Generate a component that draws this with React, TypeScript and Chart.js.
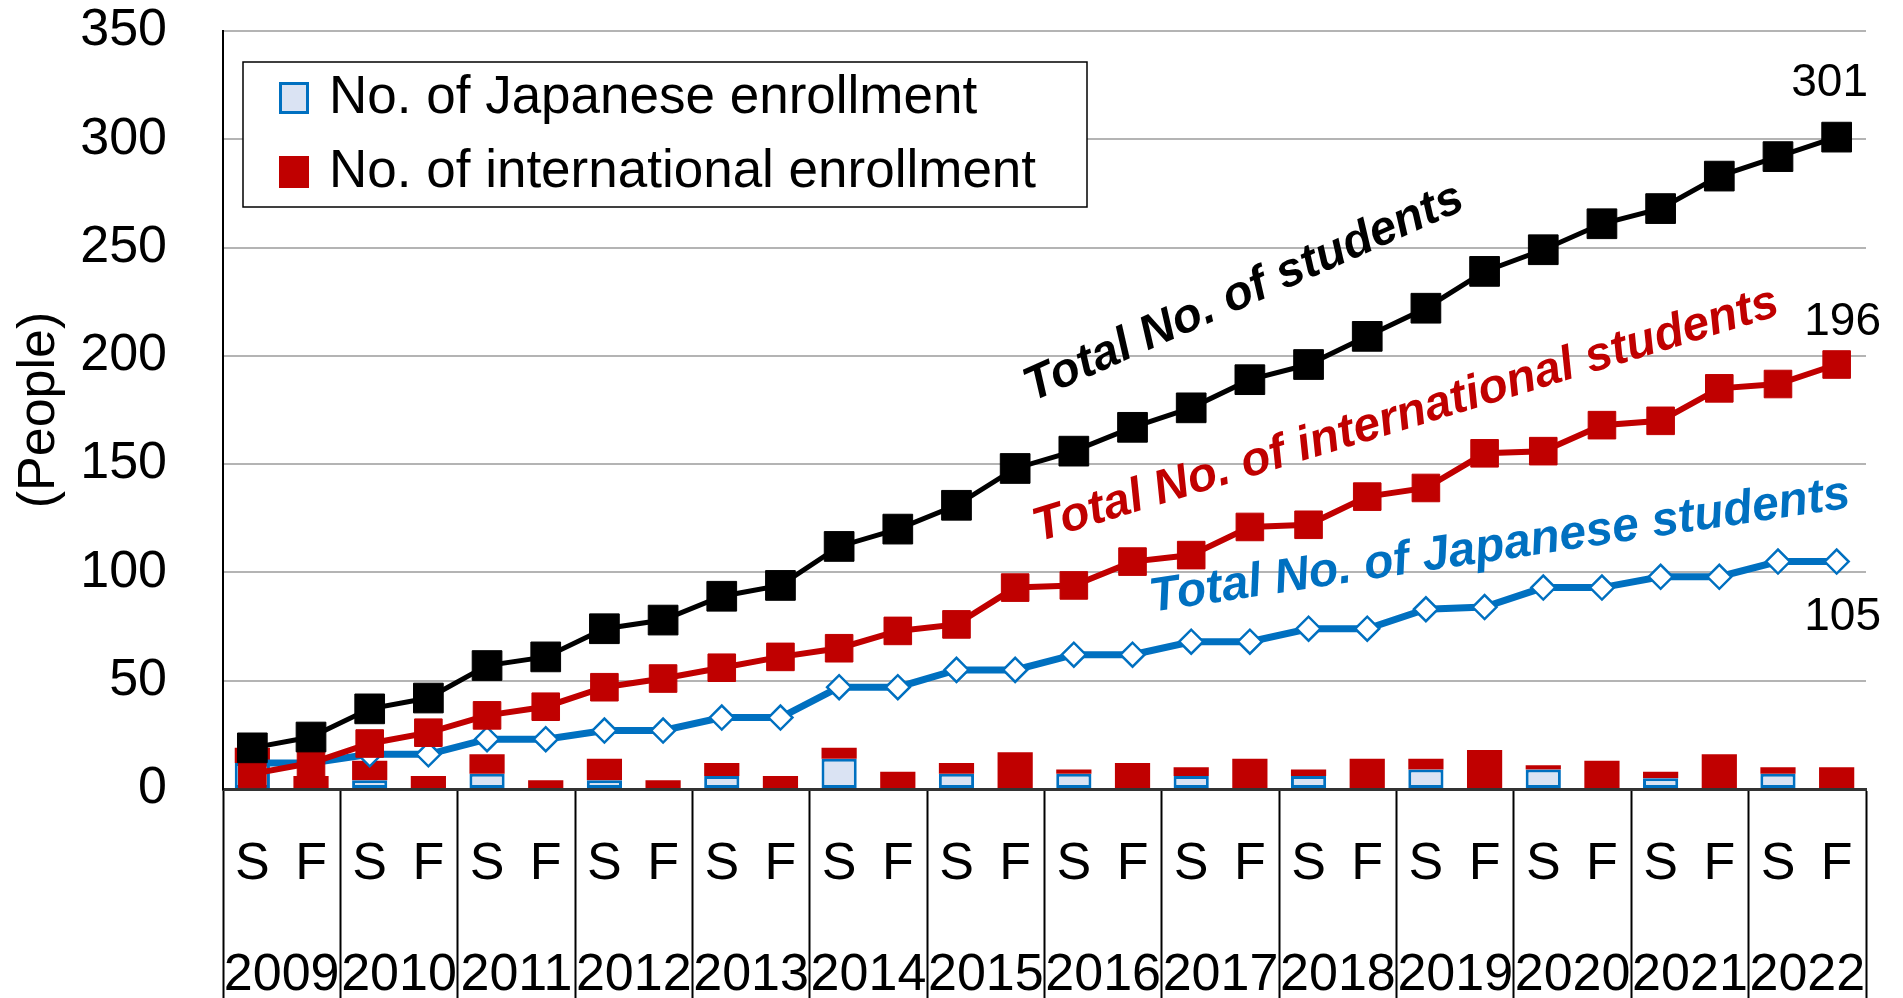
import React, { useEffect, useRef } from 'react';
import { Chart, registerables } from 'chart.js';

Chart.register(...registerables);

const FONT = "'Liberation Sans', Arial, sans-serif";

// ---- data ----
const semesters = ['S', 'F', 'S', 'F', 'S', 'F', 'S', 'F', 'S', 'F', 'S', 'F', 'S', 'F', 'S', 'F', 'S', 'F', 'S', 'F', 'S', 'F', 'S', 'F', 'S', 'F', 'S', 'F'];
const years = ['2009', '2010', '2011', '2012', '2013', '2014', '2015', '2016', '2017', '2018', '2019', '2020', '2021', '2022'];
const yTicks = [0, 50, 100, 150, 200, 250, 300, 350];

const japaneseEnrollment = [12, 0, 4, 0, 7, 0, 4, 0, 6, 0, 14, 0, 7, 0, 7, 0, 6, 0, 6, 0, 9, 0, 9, 0, 5, 0, 7, 0];
const internationalEnrollment = [7, 6, 9, 6, 9, 4, 10, 4, 6, 6, 5, 8, 5, 17, 2, 12, 4, 14, 3, 14, 5, 18, 2, 13, 3, 16, 3, 10];
const totalJapanese = [12, 12, 16, 16, 23, 23, 27, 27, 33, 33, 47, 47, 55, 55, 62, 62, 68, 68, 74, 74, 83, 84, 93, 93, 98, 98, 105, 105];
const totalInternational = [7, 12, 21, 26, 34, 38, 47, 51, 56, 61, 65, 73, 76, 93, 94, 105, 108, 121, 122, 135, 139, 155, 156, 168, 170, 185, 187, 196];
const totalStudents = [19, 24, 37, 42, 57, 61, 74, 78, 89, 94, 112, 120, 131, 148, 156, 167, 176, 189, 196, 209, 222, 239, 249, 261, 268, 283, 292, 301];

const BLACK = '#000000';
const RED = '#c00000';
const BLUE = '#0070c0';
const LIGHT_BLUE = '#dae3f3';

// rotated series captions, anchored in data coordinates (category index, value)
const captions = [
  { text: 'Total No. of students', color: BLACK, idx: 16.9, value: 229, angle: -24 },
  { text: 'Total No. of international students', color: RED, idx: 19.66, value: 172.5, angle: -17 },
  { text: 'Total No. of Japanese students', color: BLUE, idx: 21.26, value: 112, angle: -8.5 },
];

// end-of-line value labels: dataset index and offset from last point
const endLabels = [
  { dataset: 0, dx: -7, dy: -54 },
  { dataset: 1, dx: 6, dy: -42 },
  { dataset: 2, dx: 6, dy: 56 },
];

const captionPlugin = {
  id: 'captions',
  afterDatasetsDraw(chart: any) {
    const { ctx, scales } = chart;
    ctx.save();
    ctx.font = `italic bold 48px ${FONT}`;
    ctx.textAlign = 'center';
    ctx.textBaseline = 'middle';
    for (const c of captions) {
      const x = scales.x.getPixelForValue(c.idx);
      const y = scales.y.getPixelForValue(c.value);
      ctx.save();
      ctx.translate(x, y);
      ctx.rotate((c.angle * Math.PI) / 180);
      ctx.fillStyle = c.color;
      ctx.fillText(c.text, 0, 0);
      ctx.restore();
    }
    ctx.font = `46px ${FONT}`;
    ctx.fillStyle = '#000';
    for (const l of endLabels) {
      const meta = chart.getDatasetMeta(l.dataset);
      const ds = chart.data.datasets[l.dataset];
      const last = meta.data[meta.data.length - 1];
      const v = ds.data[ds.data.length - 1];
      ctx.fillText(String(v), last.x + l.dx, last.y + l.dy);
    }
    ctx.restore();
  },
};

const boxLegendPlugin = {
  id: 'boxLegend',
  afterDraw(chart: any) {
    const { ctx, chartArea } = chart;
    const left = chartArea.left + 20;
    const top = chartArea.top + 31;
    const w = 844;
    const h = 145;
    ctx.save();
    ctx.fillStyle = '#fff';
    ctx.fillRect(left, top, w, h);
    ctx.strokeStyle = '#000';
    ctx.lineWidth = 1.5;
    ctx.strokeRect(left, top, w, h);
    const items = [3, 4].map((i) => chart.data.datasets[i]);
    ctx.font = `53px ${FONT}`;
    ctx.textAlign = 'left';
    ctx.textBaseline = 'middle';
    items.forEach((ds: any, i: number) => {
      const cy = top + 36 + i * 74;
      const mx = left + 36;
      ctx.fillStyle = ds.backgroundColor;
      ctx.fillRect(mx, cy - 16, 30, 32);
      if (ds.borderWidth) {
        ctx.strokeStyle = ds.borderColor;
        ctx.lineWidth = 3;
        ctx.strokeRect(mx + 1.5, cy - 14.5, 27, 29);
      }
      ctx.fillStyle = '#000';
      ctx.fillText(ds.label, left + 86, cy);
    });
    ctx.restore();
  },
};

export default function App() {
  const ref = useRef<HTMLCanvasElement>(null);

  useEffect(() => {
    const canvas = ref.current;
    if (!canvas) return;
    Chart.defaults.font.family = FONT;
    Chart.defaults.color = '#000';

    const barCommon = { barPercentage: 0.6, categoryPercentage: 1, stack: 'bars', order: 3 };

    const chart = new Chart(canvas, {
      type: 'bar',
      data: {
        labels: semesters,
        datasets: [
          {
            type: 'line',
            label: 'Total No. of students',
            data: totalStudents,
            borderColor: BLACK,
            backgroundColor: BLACK,
            borderWidth: 5,
            pointStyle: 'rect',
            pointRadius: 21,
            pointBorderWidth: 1,
            pointBackgroundColor: BLACK,
            pointBorderColor: BLACK,
            tension: 0,
            stack: 'total',
            order: 0,
          },
          {
            type: 'line',
            label: 'Total No. of international students',
            data: totalInternational,
            borderColor: RED,
            backgroundColor: RED,
            borderWidth: 6,
            pointStyle: 'rect',
            pointRadius: 19.5,
            pointBorderWidth: 1,
            pointBackgroundColor: RED,
            pointBorderColor: RED,
            tension: 0,
            stack: 'intl',
            order: 1,
          },
          {
            type: 'line',
            label: 'Total No. of Japanese students',
            data: totalJapanese,
            borderColor: BLUE,
            backgroundColor: '#fff',
            borderWidth: 7,
            pointStyle: 'rectRot',
            pointRadius: 12,
            pointBorderWidth: 2.5,
            pointBackgroundColor: '#fff',
            pointBorderColor: BLUE,
            tension: 0,
            stack: 'jp',
            order: 2,
          },
          {
            type: 'bar',
            label: 'No. of Japanese enrollment',
            data: japaneseEnrollment,
            backgroundColor: LIGHT_BLUE,
            borderColor: BLUE,
            borderWidth: 3,
            borderSkipped: false,
            ...barCommon,
          },
          {
            type: 'bar',
            label: 'No. of international enrollment',
            data: internationalEnrollment,
            backgroundColor: RED,
            borderColor: RED,
            borderWidth: 0,
            ...barCommon,
          },
        ] as any,
      },
      options: {
        animation: false,
        responsive: true,
        maintainAspectRatio: false,
        layout: { autoPadding: false, padding: { top: 31, right: 37, left: 0, bottom: 0 } },
        plugins: {
          legend: { display: false },
          tooltip: { enabled: false },
        },
        scales: {
          x: {
            type: 'category',
            stacked: true,
            offset: true,
            weight: 0,
            grid: {
              display: true,
              offset: true,
              drawOnChartArea: false,
              drawTicks: true,
              tickLength: 215,
              tickWidth: 2,
              tickColor: (ctx: any) =>
                ctx.index === undefined || ctx.index % 2 === 0 ? '#000' : 'rgba(0,0,0,0)',
            },
            border: { display: true, color: '#333', width: 3 },
            ticks: {
              font: { size: 52 },
              padding: -171,
              autoSkip: false,
              maxRotation: 0,
              minRotation: 0,
            },
            afterFit: (scale: any) => {
              scale.height = 106;
              scale.paddingLeft = 0;
              scale.paddingRight = 0;
            },
          },
          x2: {
            type: 'category',
            labels: years,
            position: 'bottom',
            offset: true,
            weight: 1,
            grid: { display: false, drawTicks: false },
            border: { display: false },
            ticks: {
              font: { size: 52 },
              padding: 49,
              autoSkip: false,
              maxRotation: 0,
              minRotation: 0,
            },
            afterFit: (scale: any) => {
              scale.height = 145;
              scale.paddingLeft = 0;
              scale.paddingRight = 0;
            },
          },
          y: {
            stacked: true,
            min: 0,
            max: 350,
            afterBuildTicks: (scale: any) => {
              scale.ticks = yTicks.map((v) => ({ value: v }));
            },
            grid: {
              color: (ctx: any) => (ctx.tick && ctx.tick.value === 0 ? 'rgba(0,0,0,0)' : '#b4b4b4'),
              lineWidth: 2,
              drawTicks: false,
            },
            border: { display: true, color: '#000', width: 2 },
            ticks: {
              font: { size: 52 },
              padding: 56,
            },
            title: {
              display: true,
              text: '(People)',
              font: { size: 52 },
              padding: { top: 8, bottom: 0 },
            },
            afterFit: (scale: any) => {
              scale.width = 223;
              scale.paddingTop = 0;
              scale.paddingBottom = 0;
            },
          },
        } as any,
      },
      plugins: [captionPlugin, boxLegendPlugin],
    });

    return () => chart.destroy();
  }, []);

  return (
    <div
      style={{
        position: 'fixed',
        left: 0,
        top: 0,
        width: 1903,
        height: 998,
        overflow: 'hidden',
        background: '#fff',
      }}
    >
      <div style={{ position: 'relative', width: 1903, height: 1040 }}>
        <canvas ref={ref} />
      </div>
    </div>
  );
}
